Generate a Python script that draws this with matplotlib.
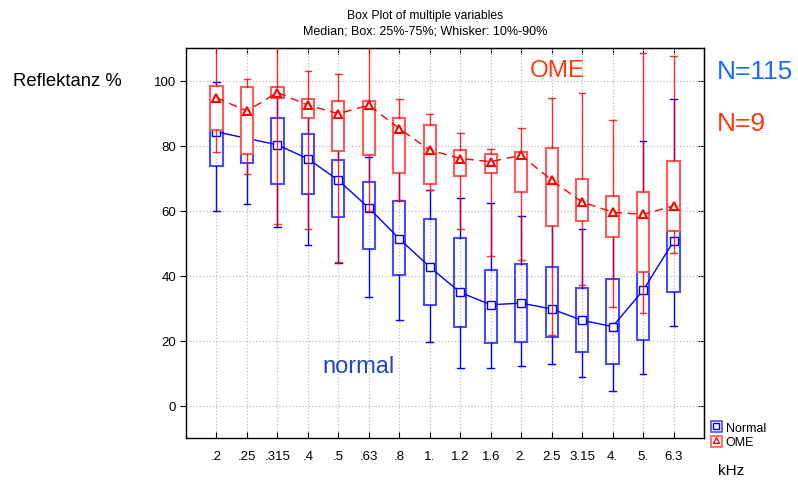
import matplotlib
matplotlib.use("Agg")
import matplotlib.pyplot as plt
from matplotlib.lines import Line2D
from matplotlib.patches import Patch
import numpy as np

plt.rcParams['font.family'] = ['Liberation Sans', 'DejaVu Sans']

categories = ['.2', '.25', '.315', '.4', '.5', '.63', '.8', '1.', '1.2', '1.6',
              '2.', '2.5', '3.15', '4.', '5.', '6.3']

normal_med = [84.2, 82.2, 80.2, 75.9, 69.3, 60.8, 51.3, 42.6, 34.8, 31.0, 31.5, 29.7, 26.2, 24.3, 35.4, 50.5]
normal_q1 = [73.6, 74.7, 68.1, 65.0, 58.1, 48.3, 40.1, 30.9, 24.3, 19.2, 19.4, 21.0, 16.4, 12.7, 20.3, 34.9]
normal_q3 = [85.0, 88.0, 88.5, 83.5, 75.4, 68.9, 62.8, 57.4, 51.5, 41.6, 43.4, 42.6, 36.1, 38.9, 50.0, 62.0]
normal_wlo = [59.9, 61.9, 54.8, 49.5, 44.0, 33.4, 26.3, 19.5, 11.5, 11.5, 12.1, 12.7, 8.9, 4.6, 9.6, 24.6]
normal_whi = [99.6, 96.0, 97.0, 92.0, 86.0, 76.5, 72.0, 66.2, 63.8, 62.4, 58.3, 60.0, 54.4, 56.0, 81.3, 94.2]

ome_med = [94.7, 90.6, 96.3, 92.4, 89.8, 92.4, 85.2, 78.6, 76.0, 75.0, 77.0, 69.3, 62.6, 59.5, 58.8, 61.4]
ome_q1 = [84.9, 77.4, 94.7, 88.5, 78.2, 77.1, 71.4, 68.2, 70.6, 71.5, 65.7, 55.2, 56.9, 52.0, 41.0, 53.8]
ome_q3 = [98.3, 97.9, 98.1, 94.3, 93.7, 93.8, 88.5, 86.3, 78.6, 77.3, 78.0, 79.3, 69.6, 64.4, 65.7, 75.2]
ome_wlo = [78.0, 71.1, 55.8, 54.4, 44.1, 59.8, 63.3, 66.2, 54.2, 46.0, 44.7, 21.7, 37.1, 30.3, 28.5, 47.0]
ome_whi = [115.0, 100.4, 115.0, 102.8, 102.1, 115.0, 94.4, 89.6, 84.0, 78.9, 85.5, 94.7, 96.3, 87.9, 108.5, 107.4]

yticks = [0, 20, 40, 60, 80, 100]

fig = plt.figure(figsize=(7.98, 4.85), dpi=100)
ax = fig.add_axes([186/798, 1-439/485, (704-186)/798, (439-49)/485])

pos = np.arange(1, len(categories) + 1)


def stats(med, q1, q3, lo, hi):
    return [dict(med=m, q1=a, q3=b, whislo=l, whishi=h, fliers=[])
            for m, a, b, l, h in zip(med, q1, q3, lo, hi)]


blue = '#0000ff'
red = '#ff0000'

ax.bxp(stats(normal_med, normal_q1, normal_q3, normal_wlo, normal_whi),
       positions=pos, widths=0.4, showfliers=False, patch_artist=True,
       boxprops=dict(facecolor='none', edgecolor='#4a4aff', linewidth=1.5),
       whiskerprops=dict(color=blue, linewidth=1.0),
       capprops=dict(color=blue, linewidth=1.0),
       medianprops=dict(visible=False), capwidths=0.22, zorder=2)

ax.plot(pos, normal_med, color=blue, linewidth=1.0, marker='s', markersize=5.5,
        markerfacecolor='white', markeredgecolor=blue, markeredgewidth=1.0, zorder=3)

ax.bxp(stats(ome_med, ome_q1, ome_q3, ome_wlo, ome_whi),
       positions=pos, widths=0.4, showfliers=False, patch_artist=True,
       boxprops=dict(facecolor='white', edgecolor='#ff5a5a', linewidth=1.5),
       whiskerprops=dict(color=red, linewidth=1.0, alpha=0.8),
       capprops=dict(color=red, linewidth=1.0, alpha=0.8),
       medianprops=dict(visible=False), capwidths=0.22, zorder=4)

ax.plot(pos, ome_med, color=red, linewidth=1.0, linestyle=(0, (6, 4)), marker='^', markersize=5.5,
        markerfacecolor='white', markeredgecolor=red, markeredgewidth=1.5, zorder=5)

ax.set_xlim(0, len(categories) + 1)
ax.set_ylim(-10, 110)
ax.set_xticks(pos)
ax.set_xticklabels(categories, fontsize=9.5)
ax.set_yticks(yticks)
ax.set_yticklabels([str(v) for v in yticks], fontsize=9.5)
ax.grid(True, color='#bdbdbd', linestyle=':', linewidth=0.9, zorder=0)
ax.set_axisbelow(True)
ax.tick_params(axis='y', direction='out', length=4, width=0.8, pad=3)
ax.tick_params(axis='x', direction='in', length=4, width=0.8, pad=9)
for s in ax.spines.values():
    s.set_linewidth(1.0)

sec_y = ax.secondary_yaxis('right')
sec_y.set_yticks(yticks)
sec_y.tick_params(direction='in', length=4, labelright=False)
sec_x = ax.secondary_xaxis('top')
sec_x.set_xticks(pos)
sec_x.tick_params(direction='in', length=4, labeltop=False)

fig.text(425/798, 1-16/485, 'Box Plot of multiple variables', ha='center', va='center', fontsize=8.7)
fig.text(425/798, 1-32/485, 'Median; Box: 25%-75%; Whisker: 10%-90%', ha='center', va='center', fontsize=9)
fig.text(13/798, 1-81/485, 'Reflektanz %', ha='left', va='center', fontsize=13.3)
fig.text(717/798, 1-72/485, 'N=115', ha='left', va='center', fontsize=19, color='#1a6aff')
fig.text(717/798, 1-124/485, 'N=9', ha='left', va='center', fontsize=19, color='#ff3a12')
fig.text(718/798, 1-471/485, 'kHz', ha='left', va='center', fontsize=11)
ax.text(12.2, 103.3, 'OME', ha='center', va='center', fontsize=17.5, color='#ff3a12', zorder=6)
ax.text(5.65, 12.2, 'normal', ha='center', va='center', fontsize=17, color='#1f45d0', zorder=6)

h_normal = (Patch(facecolor='white', edgecolor='#4a4aff', linewidth=1.2),
            Line2D([], [], color=blue, marker='s', markersize=5, markerfacecolor='white', linestyle='none'))
h_ome = (Patch(facecolor='white', edgecolor='#ff5a5a', linewidth=1.2),
         Line2D([], [], color=red, marker='^', markersize=5, markerfacecolor='white', linestyle='none'))
fig.legend([h_normal, h_ome], ['Normal', 'OME'], loc='upper left',
           bbox_to_anchor=(702/798, 1-413/485), frameon=False, fontsize=9,
           handlelength=0.9, handleheight=1.0, handletextpad=0.3, labelspacing=0.15,
           borderpad=0.2)

fig.savefig('out.png', dpi=100)
